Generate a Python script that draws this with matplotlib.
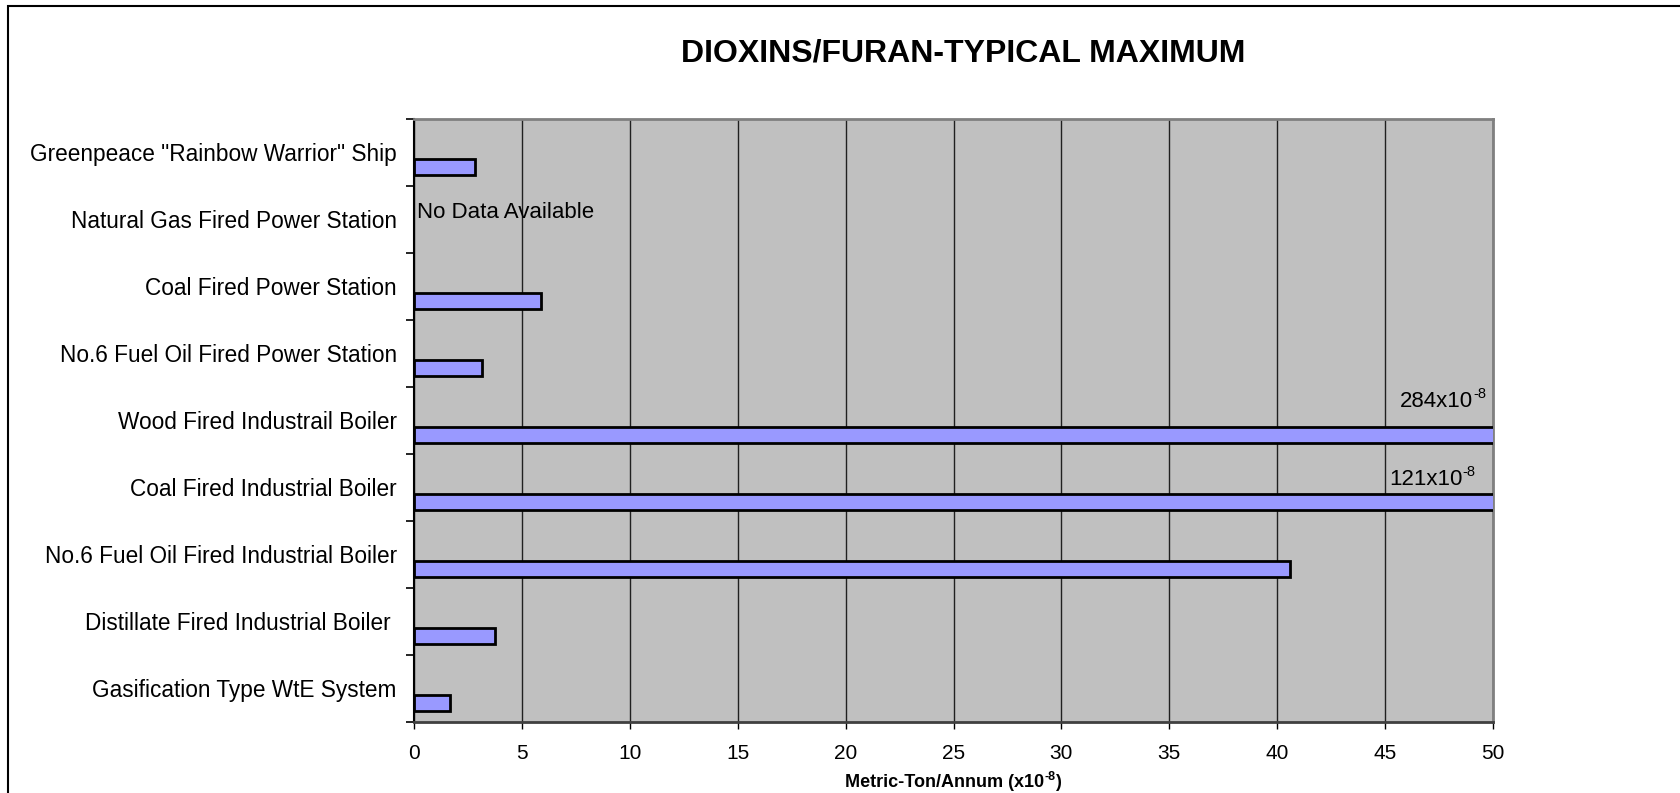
import matplotlib
matplotlib.use("Agg")
import matplotlib.pyplot as plt
from matplotlib.patches import Rectangle

plt.rcParams['font.family'] = ['Liberation Sans', 'DejaVu Sans']

# ---- data (bottom to top) ----
categories = [
    "Gasification Type WtE System",
    "Distillate Fired Industrial Boiler ",
    "No.6 Fuel Oil Fired Industrial Boiler",
    "Coal Fired Industrial Boiler",
    "Wood Fired Industrail Boiler",
    "No.6 Fuel Oil Fired Power Station",
    "Coal Fired Power Station",
    "Natural Gas Fired Power Station",
    'Greenpeace "Rainbow Warrior" Ship',
]
values = [1.65, 3.75, 40.6, 121, 284, 3.14, 5.9, None, 2.83]
x_ticks = [0, 5, 10, 15, 20, 25, 30, 35, 40, 45, 50]
title = "DIOXINS/FURAN-TYPICAL MAXIMUM"
xlabel_base = "Metric-Ton/Annum (x10"
xlabel_exp = "-8"
xlabel_tail = ")"
unit_base = "x10"
unit_exp = "-8"
no_data_text = "No Data Available"

XMAX = 50
W, H = 1680, 793

fig = plt.figure(figsize=(W / 100, H / 100), dpi=100)
ax = fig.add_axes([414 / W, 1 - 721.8 / H, (1493 - 414) / W, (721.8 - 118.7) / H])
ax.set_facecolor('#C0C0C0')

bar_offset = -0.22
bar_h = 0.235
for i, v in enumerate(values):
    if v is None:
        continue
    ax.barh(i + bar_offset, v, height=bar_h, color='#9999FF',
            edgecolor='black', linewidth=2.0, zorder=3)

# labels for bars exceeding axis range (base text end x, baseline y)
label_pos = {4: (49.07, 4.194), 3: (48.6, 3.034)}
for i, (lx, ly) in label_pos.items():
    t = ax.text(lx, ly, f"{values[i]}{unit_base}", ha='right', va='baseline',
                fontsize=16, zorder=4)
    ax.annotate(unit_exp, xy=(1, 1), xycoords=t, xytext=(0, 3),
                textcoords='offset points', ha='left', va='top', fontsize=10.5,
                zorder=4)

# no data text
for i, v in enumerate(values):
    if v is None:
        ax.text(0.12, i + 0.025, no_data_text, ha='left', va='baseline',
                fontsize=16, zorder=4)

ax.set_xlim(0, XMAX)
ax.set_ylim(-0.5, len(categories) - 0.5)
ax.set_xticks(x_ticks)
ax.set_xticklabels([str(t) for t in x_ticks], fontsize=15)
ax.set_yticks(range(len(categories)))
ax.set_yticklabels(categories, fontsize=16.3)
ax.set_yticks([k - 0.5 for k in range(len(categories) + 1)], minor=True)
ax.tick_params(axis='y', which='major', length=0, pad=12.5)
ax.tick_params(axis='y', which='minor', length=5.5, width=1.2, color='black', direction='out')
ax.tick_params(axis='x', which='major', length=5, width=1.0, color='black', pad=11)

ax.xaxis.grid(True, color='#202020', linewidth=1.0, zorder=1)
ax.set_axisbelow(True)

ax.spines['left'].set_color('black')
ax.spines['left'].set_linewidth(1.5)
ax.spines['bottom'].set_color('#404040')
ax.spines['bottom'].set_linewidth(2.0)
ax.spines['top'].set_color('#808080')
ax.spines['top'].set_linewidth(2.0)
ax.spines['right'].set_color('#808080')
ax.spines['right'].set_linewidth(2.0)

fig.text(963.5 / W, 1 - 61.7 / H, title, ha='center', va='baseline',
         fontsize=23, fontweight='bold')

# x-axis title with superscript
xl = fig.text(845 / W, 1 - 787 / H, xlabel_base, ha='left', va='baseline',
              fontsize=13, fontweight='bold')
xe = ax.annotate(xlabel_exp, xy=(1, 1), xycoords=xl, xytext=(0, 2.5),
                 textcoords='offset points', ha='left', va='top',
                 fontsize=9, fontweight='bold', annotation_clip=False)
ax.annotate(xlabel_tail, xy=(1, 0), xycoords=(xe, xl), ha='left', va='bottom',
            fontsize=13, fontweight='bold', annotation_clip=False)

# outer chart border (only left and top visible)
fig.patches.append(Rectangle((7.5 / W, -0.05), 1.2, 1.05 - 6 / H,
                             transform=fig.transFigure, fill=False,
                             edgecolor='black', linewidth=1.5))

fig.savefig("out.png", dpi=100, facecolor='white')
